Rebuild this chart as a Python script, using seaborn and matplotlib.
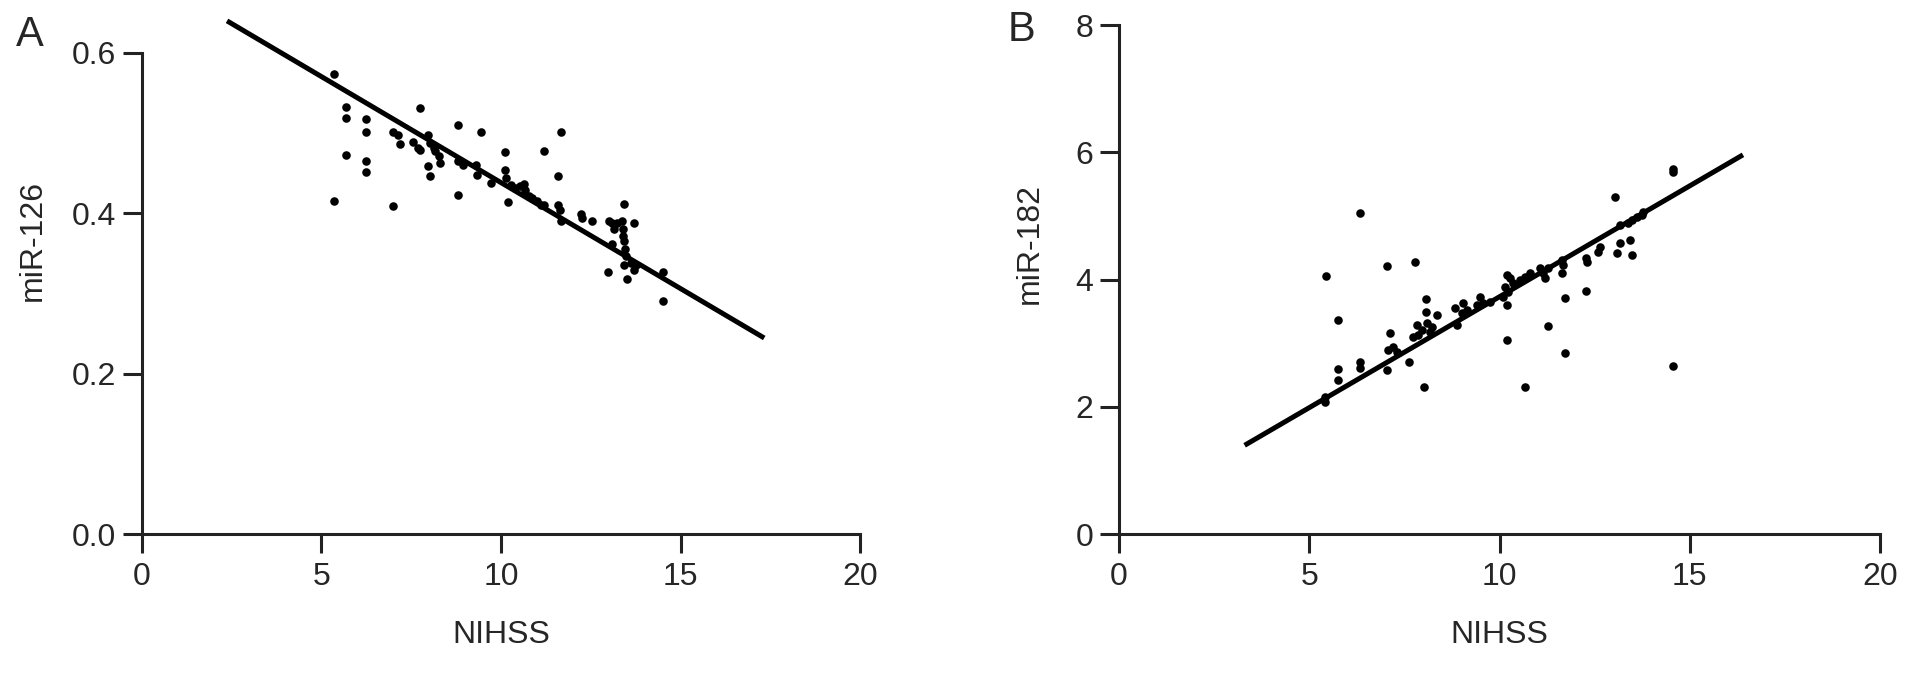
import numpy as np
import matplotlib
matplotlib.use("Agg")
import matplotlib.pyplot as plt
import seaborn as sns

# panel A: NIHSS vs miR-126
nihss_a = [5.36, 5.69, 5.69, 6.25, 6.25, 5.69, 6.25, 6.25, 5.36, 7.0, 7.75, 7.0, 7.14, 7.2,
           7.56, 7.7, 7.75, 7.98, 8.03, 8.12, 8.17, 8.26, 8.31, 7.98, 8.03, 8.81, 9.43, 8.81,
           8.81, 8.95, 9.29, 9.32, 9.71, 10.1, 10.1, 10.15, 10.29, 10.4, 10.2, 11.66, 11.21,
           11.58, 10.54, 10.63, 10.68, 10.77, 10.85, 10.99, 11.1, 11.19, 11.58, 11.63, 11.66,
           12.22, 12.25, 12.52, 13.0, 13.08, 13.14, 13.22, 13.42, 13.36, 13.39, 13.39, 13.42,
           13.45, 13.47, 13.7, 13.08, 13.42, 13.61, 13.7, 13.75, 12.97, 13.5, 14.5, 14.5]
mir126 = [0.574, 0.533, 0.519, 0.518, 0.501, 0.473, 0.465, 0.451, 0.415, 0.409, 0.531, 0.501,
          0.498, 0.486, 0.489, 0.481, 0.479, 0.498, 0.488, 0.481, 0.478, 0.471, 0.463, 0.459,
          0.446, 0.51, 0.501, 0.423, 0.465, 0.46, 0.46, 0.448, 0.438, 0.476, 0.454, 0.444,
          0.435, 0.431, 0.414, 0.501, 0.478, 0.447, 0.434, 0.436, 0.429, 0.422, 0.419, 0.415,
          0.41, 0.411, 0.411, 0.404, 0.391, 0.399, 0.394, 0.39, 0.391, 0.388, 0.381, 0.388,
          0.412, 0.39, 0.381, 0.372, 0.365, 0.356, 0.347, 0.388, 0.362, 0.335, 0.338, 0.329,
          0.335, 0.327, 0.318, 0.327, 0.291]

# panel B: NIHSS vs miR-182
nihss_b = [6.33, 5.44, 7.04, 7.78, 5.76, 7.12, 5.76, 5.76, 5.41, 5.4, 6.33, 6.33, 7.04, 7.07,
           7.2, 7.3, 7.62, 8.02, 8.07, 8.07, 7.83, 7.96, 8.09, 8.23, 8.36, 8.17, 7.73, 7.86,
           8.83, 8.88, 9.01, 9.04, 9.15, 9.49, 9.41, 9.57, 9.75, 10.2, 10.2, 10.2, 14.56, 14.56,
           13.04, 10.28, 10.15, 10.22, 10.09, 10.35, 10.54, 10.67, 10.8, 11.06, 11.14, 11.2,
           11.27, 11.64, 11.67, 11.64, 11.72, 12.27, 12.3, 12.27, 12.59, 12.64, 13.09, 13.17,
           13.43, 13.48, 13.17, 13.38, 13.48, 13.61, 13.74, 13.77, 11.27, 11.72, 10.67, 14.56]
mir182 = [5.05, 4.06, 4.21, 4.28, 3.36, 3.16, 2.59, 2.42, 2.08, 2.15, 2.70, 2.61, 2.58, 2.89,
          2.94, 2.86, 2.70, 2.31, 3.69, 3.49, 3.29, 3.21, 3.32, 3.25, 3.44, 3.18, 3.10, 3.13,
          3.55, 3.29, 3.47, 3.63, 3.52, 3.73, 3.60, 3.63, 3.65, 4.07, 3.60, 3.05, 5.69, 5.74,
          5.30, 4.03, 3.88, 3.81, 3.73, 3.95, 3.99, 4.04, 4.10, 4.18, 4.10, 4.03, 4.18, 4.31,
          4.23, 4.10, 3.71, 4.34, 4.28, 3.82, 4.43, 4.51, 4.42, 4.58, 4.62, 4.39, 4.86, 4.89,
          4.94, 4.98, 5.02, 5.06, 3.27, 2.85, 2.31, 2.64]

# regression lines (slope, intercept) and their x span
fit_a = (-0.02644, 0.7027)
fit_b = (0.3485, 0.244)
line_span_a = [2.37, 17.33]
line_span_b = [3.3, 16.4]

x_ticks = [0, 5, 10, 15, 20]
y_ticks_a = [0.0, 0.2, 0.4, 0.6]
y_ticks_b = [0, 2, 4, 6, 8]

sns.set_style("ticks")
plt.rcParams["font.family"] = ["Liberation Sans", "DejaVu Sans"]

fig = plt.figure(figsize=(19.13, 6.74), dpi=100)
ax1 = fig.add_axes([0.0742, 0.2077, 0.3754, 0.7137])
ax2 = fig.add_axes([0.5850, 0.2077, 0.3977, 0.7552])


def panel(ax, x, y, fit, span, yticks, ylab, yfmt, ylab_pos):
    sns.scatterplot(x=x, y=y, ax=ax, color="black", s=38, linewidth=0, zorder=3)
    slope, icpt = fit
    xs = np.array(span)
    ax.plot(xs, icpt + slope * xs, color="black", lw=3.6, solid_capstyle="butt", zorder=2,
            clip_on=False)
    ax.set_xlim(0, 20)
    ax.set_ylim(yticks[0], yticks[-1])
    ax.set_xticks(x_ticks)
    ax.set_yticks(yticks)
    ax.set_yticklabels([yfmt.format(v) for v in yticks])
    sns.despine(ax=ax)
    for s in ["left", "bottom"]:
        ax.spines[s].set_linewidth(2.2)
        ax.spines[s].set_color("#222222")
    ax.tick_params(length=13.5, width=2.2, color="#222222", labelsize=23, pad=5)
    ax.tick_params(axis="x", pad=7)
    ax.set_xlabel("NIHSS", fontsize=23, labelpad=20)
    ax.set_ylabel(ylab, fontsize=23)
    ax.yaxis.set_label_coords(*ylab_pos)


panel(ax1, nihss_a, mir126, fit_a, line_span_a, y_ticks_a, "miR-126", "{:.1f}", (-0.131, 0.61))
panel(ax2, nihss_b, mir182, fit_b, line_span_b, y_ticks_b, "miR-182", "{:d}", (-0.098, 0.57))

fig.text(30 / 1913, 1 - 35 / 674, "A", fontsize=30, ha="center", va="center")
fig.text(1022 / 1913, 1 - 30 / 674, "B", fontsize=30, ha="center", va="center")

fig.savefig("out.png", dpi=100)
